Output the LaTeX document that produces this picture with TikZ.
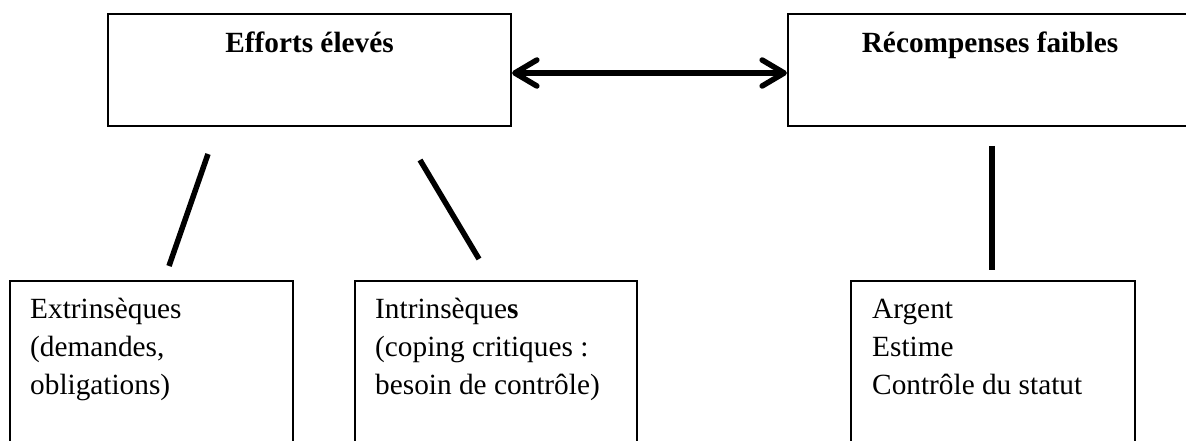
\documentclass[tikz,border=0pt]{standalone}
\usepackage{fontspec}
\setmainfont{Liberation Serif}
\usetikzlibrary{arrows.meta}
\begin{document}
\begin{tikzpicture}[x=1pt,y=-1pt,
  topbox/.style={draw, line width=2.2pt, minimum width=#1, minimum height=112pt, inner sep=0pt},
  subbox/.style={draw, line width=1.5pt, minimum width=#1, minimum height=189pt, inner sep=0pt},
  title/.style={font=\fontsize{29.3}{38}\selectfont\bfseries, anchor=base, inner sep=0pt},
  body/.style={font=\fontsize{29.3}{38.3}\selectfont, align=left, anchor=base west, inner sep=0pt},
  link/.style={line width=5.5pt},
  biarrow/.style={line width=5.5pt, {Straight Barb[length=22pt,width=26pt,round]}-{Straight Barb[length=22pt,width=26pt,round]}}
]
\path[use as bounding box, clip] (0,0) rectangle (1186,441);

% upper boxes
\node[topbox=403pt] (effort) at (309.5,70) {};
\node[topbox=404pt] (reward) at (990,70) {};
\node[title] (effortT) at (309.5,53) {Efforts élevés};
\node[title] (rewardT) at (990,53) {Récompenses faibles};

% lower boxes (the base anchor of a multi-line node sits on its last line)
\node[subbox=283pt] (extr) at (151.5,375.5) {};
\node[subbox=282pt] (intr) at (496,375.5) {};
\node[subbox=284pt] (gain) at (993,375.5) {};
\node[body] (extrT) at (30,394.6) {Extrinsèques\\(demandes,\\obligations)};
\node[body] (intrT) at (375,394.6) {Intrinsèque\textbf{s}\\(coping critiques :\\besoin de contrôle)};
\node[body] (gainT) at (872,394.6) {Argent\\Estime\\Contrôle du statut};

% connectors
\draw[biarrow] ([yshift=-3pt]effort.east) -- ([yshift=-3pt]reward.west);
\coordinate (l1a) at (208,154); \coordinate (l1b) at (169,266);
\coordinate (l2a) at (420,160); \coordinate (l2b) at (479,259);
\coordinate (l3a) at (992,146); \coordinate (l3b) at (992,270);
\draw[link] (l1a) -- (l1b);
\draw[link] (l2a) -- (l2b);
\draw[link] (l3a) -- (l3b);
\end{tikzpicture}
\end{document}
